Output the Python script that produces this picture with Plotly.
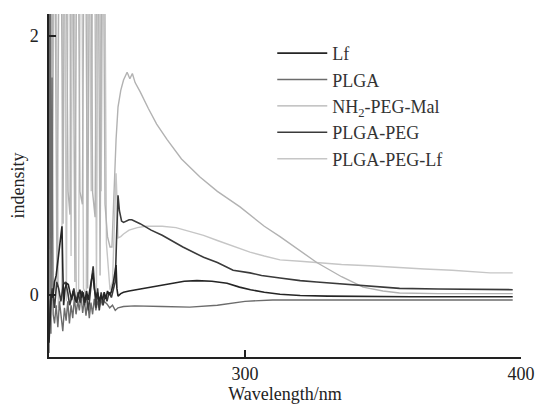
import plotly.graph_objects as go

# ---------------- data ----------------
lf_wl = [229.0, 229.4, 229.8, 230.4, 231.0, 231.6, 232.2, 232.8, 233.4, 233.7, 234.0, 234.3,
         234.8, 235.4, 236.0, 236.6, 237.2, 237.8, 238.4, 239.0, 239.6, 240.2, 240.8, 241.4,
         242.0, 242.6, 243.2, 243.8, 244.4, 244.9, 245.4, 246.0, 246.6, 247.2, 247.8, 248.4,
         249.0, 249.6, 250.2, 250.8, 251.5, 252.2, 252.9, 253.3, 253.6, 254.0, 255.0, 256.0,
         258.0, 263.0, 268.0, 273.0, 278.0, 282.6, 288.0, 293.5, 298.0, 302.0, 307.0, 312.7,
         320.0, 330.0, 345.0, 360.0, 380.0, 397.0]
lf_val = [-0.37, -0.20, 0.00, -0.02, 0.10, 0.15, 0.25, 0.35, 0.45, 0.53, 0.20, -0.08,
          0.05, 0.09, 0.08, 0.02, -0.04, 0.03, -0.03, -0.06, 0.00, 0.04, -0.02, 0.02,
          -0.06, 0.03, -0.04, 0.06, 0.12, 0.17, 0.05, -0.02, 0.02, -0.05, 0.00, -0.04,
          0.02, -0.03, 0.03, 0.00, 0.02, 0.08, 0.20, 0.23, 0.05, -0.01, 0.01, 0.02,
          0.03, 0.05, 0.07, 0.09, 0.105, 0.11, 0.105, 0.09, 0.06, 0.04, 0.02, 0.005,
          -0.005, -0.01, -0.015, -0.015, -0.015, -0.015]

plga_wl = [229.0, 229.3, 229.7, 230.1, 230.5, 231.0, 231.6, 232.2, 232.8, 233.4, 234.0, 234.6,
           235.2, 235.8, 236.4, 237.0, 237.6, 238.2, 238.8, 239.4, 240.0, 240.6, 241.2, 241.8,
           242.4, 243.0, 243.6, 244.2, 244.8, 245.4, 246.0, 246.6, 247.2, 247.8, 248.4, 249.0,
           250.0, 251.0, 252.0, 253.0, 254.0, 256.0, 260.0, 270.0, 280.0, 290.0, 300.0, 310.0,
           330.0, 360.0, 397.0]
plga_val = [-0.45, 4.0, -0.30, 1.68, -0.15, -0.22, -0.08, -0.25, -0.05, -0.18, -0.28, -0.10,
            -0.20, -0.05, -0.22, -0.08, -0.18, -0.02, -0.15, -0.05, -0.12, 0.00, -0.14, -0.04,
            -0.16, -0.05, -0.18, -0.06, -0.15, -0.03, -0.12, -0.05, -0.10, -0.04, -0.08, -0.05,
            -0.07, -0.10, -0.08, -0.12, -0.10, -0.09, -0.085, -0.09, -0.095, -0.08, -0.05, -0.04,
            -0.04, -0.04, -0.04]

mal_wl = [229.0, 229.5, 230.2, 230.8, 231.9, 233.0, 234.1, 234.8, 235.9, 236.6, 237.3, 238.4,
          239.3, 240.2, 241.1, 242.0, 243.0, 243.9, 244.8, 245.7, 246.6, 247.5, 248.4, 249.3,
          250.2, 251.1, 251.8, 252.5, 253.3, 254.0, 255.0, 256.0, 257.3, 258.3, 259.2, 260.2,
          262.0, 265.0, 268.0, 271.8, 277.0, 283.7, 290.0, 298.2, 301.8, 307.0, 312.7, 320.0,
          326.0, 335.0, 342.8, 350.0, 356.0, 370.0, 385.0, 397.0]
mal_val = [0.35, 4.0, 0.90, 4.0, 0.10, 4.0, 0.55, 4.0, 0.80, 0.62, 4.0, 0.10,
           4.0, 0.80, 0.70, 4.0, 0.05, 4.0, 0.79, 0.60, 4.0, 0.15, 4.0, 0.70,
           0.45, 0.37, 0.37, 0.80, 1.20, 1.45, 1.58, 1.66, 1.72, 1.67, 1.71, 1.64,
           1.57, 1.44, 1.32, 1.20, 1.05, 0.91, 0.80, 0.68, 0.62, 0.53, 0.45, 0.34,
           0.25, 0.14, 0.06, 0.03, 0.015, 0.01, 0.01, 0.01]

peg_wl = [229.0, 229.5, 230.2, 231.0, 231.8, 232.5, 233.3, 234.2, 235.0, 235.8, 236.5, 237.3,
          238.0, 238.8, 239.6, 240.3, 241.0, 241.8, 242.5, 243.3, 244.0, 244.6, 245.0, 245.5,
          246.0, 246.6, 247.2, 247.9, 248.6, 249.3, 250.0, 250.8, 251.6, 252.4, 253.0, 253.5,
          254.0, 254.5, 255.3, 256.0, 257.0, 258.0, 259.0, 262.0, 266.0, 270.0, 277.5, 285.0,
          290.0, 295.7, 301.8, 306.0, 312.7, 320.0, 326.0, 335.0, 343.0, 356.0, 370.0, 385.0,
          397.0]
peg_val = [-0.30, -0.05, 0.05, -0.10, 0.10, 0.05, -0.05, 0.08, 0.10, 0.02, -0.08, 0.00,
           0.05, -0.05, 0.02, -0.06, 0.03, -0.08, 0.00, -0.12, 0.05, 0.15, 0.22, 0.08,
           -0.10, 0.05, -0.12, 0.02, -0.08, 0.00, -0.05, 0.02, -0.02, 0.05, 0.10, 0.45,
           0.77, 0.65, 0.57, 0.56, 0.57, 0.58, 0.58, 0.55, 0.50, 0.46, 0.37, 0.29,
           0.25, 0.19, 0.17, 0.15, 0.13, 0.11, 0.10, 0.085, 0.07, 0.05, 0.045, 0.04,
           0.04]

peglf_wl = [229.0, 230.0, 231.2, 232.4, 233.6, 234.4, 235.3, 236.2, 237.0, 237.8, 238.9, 239.7,
            240.6, 241.5, 242.5, 243.3, 244.3, 245.2, 246.2, 247.0, 247.9, 248.9, 249.8, 251.1,
            252.0, 252.7, 253.3, 253.7, 254.0, 255.0, 256.0, 258.0, 261.0, 264.0, 266.7, 270.0,
            275.0, 280.0, 285.0, 290.0, 295.0, 301.8, 307.0, 312.7, 320.0, 326.0, 335.0, 345.0,
            356.0, 365.0, 375.0, 388.8, 397.0]
peglf_val = [-0.15, -0.05, 4.0, -0.10, 0.00, 4.0, -0.05, 4.0, 0.30, 4.0, 0.05, -0.08,
             4.0, 0.05, 0.00, 4.0, 0.80, 4.0, 0.05, 4.0, 0.80, 4.0, 0.40, 0.04,
             0.10, 0.60, 0.94, 0.70, 0.44, 0.45, 0.47, 0.50, 0.52, 0.53, 0.53, 0.53,
             0.52, 0.49, 0.46, 0.42, 0.38, 0.33, 0.30, 0.27, 0.26, 0.25, 0.235, 0.225,
             0.21, 0.20, 0.19, 0.17, 0.17]

x_ticks = [300, 400]
y_ticks = [0, 2]

# ---------------- figure ----------------
FONT = "Liberation Serif, Times New Roman, serif"
fig = go.Figure()

series = [
    # (name, x, y, colour, width, legendrank) -- light ones drawn first (behind)
    ("PLGA-PEG-Lf", peglf_wl, peglf_val, "#c6c6c6", 1.4, 5),
    ("NH<sub>2</sub>-PEG-Mal", mal_wl, mal_val, "#b2b2b2", 1.4, 3),
    ("PLGA", plga_wl, plga_val, "#6c6c6c", 1.4, 2),
    ("PLGA-PEG", peg_wl, peg_val, "#3a3a3a", 1.6, 4),
    ("Lf", lf_wl, lf_val, "#252525", 1.6, 1),
]
for name, xs, ys, col, w, rank in series:
    fig.add_trace(go.Scatter(x=xs, y=ys, mode="lines", name=name,
                             line=dict(color=col, width=w), legendrank=rank))

fig.update_layout(
    width=539, height=407,
    margin=dict(l=49, r=18, t=14, b=50, autoexpand=False),
    paper_bgcolor="white", plot_bgcolor="white",
    font=dict(family=FONT, size=18, color="#222"),
    showlegend=True,
    legend=dict(x=0.473, y=0.939, xanchor="left", yanchor="top",
                font=dict(family=FONT, size=18, color="#333"),
                bgcolor="rgba(0,0,0,0)", tracegroupgap=0, itemwidth=50),
)
fig.update_xaxes(range=[229, 400], tickvals=x_ticks, ticks="inside", ticklen=7,
                 tickwidth=1.5, tickcolor="#222", showline=True, linecolor="#222",
                 linewidth=1.5, showgrid=False, zeroline=False, automargin=False,
                 tickfont=dict(family=FONT, size=18),
                 title=dict(text="Wavelength/nm", font=dict(family=FONT, size=18), standoff=0))
fig.update_yaxes(range=[-0.48, 2.17], tickvals=y_ticks, ticks="inside", ticklen=7,
                 tickwidth=1.5, tickcolor="#222", showline=True, linecolor="#222",
                 linewidth=1.5, showgrid=False, zeroline=False, automargin=False,
                 ticklabelstandoff=5, tickfont=dict(family=FONT, size=18),
                 title=dict(text="indensity", font=dict(family=FONT, size=18), standoff=0))

# remove the page's default body margin so the figure sits at the window's corner
fig.write_html("out.html",
               config={"displayModeBar": False},
               post_script="document.body.style.margin='0';document.body.style.overflow='hidden';")
